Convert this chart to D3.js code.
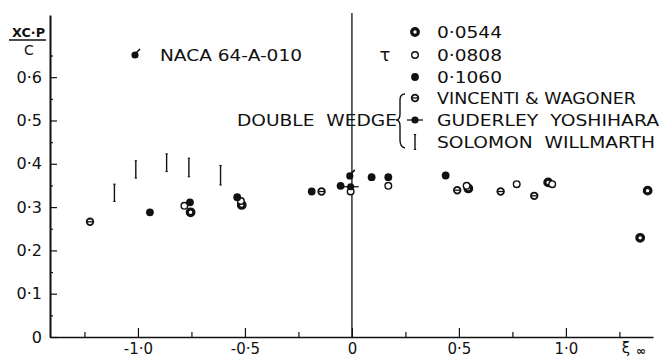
<!DOCTYPE html>
<html>
<head>
<meta charset="utf-8">
<script src="https://cdn.jsdelivr.net/npm/d3@7"></script>
<style>
  body { margin: 0; background: #fff; }
  svg { display: block; }
  text { font-family: "DejaVu Sans", sans-serif; fill: #111; }
</style>
</head>
<body>
<svg id="chart" width="659" height="358"></svg>
<script>
// Centre-of-pressure position x_cp/c against transonic similarity parameter xi_inf

// Thickness ratio tau = 0.0544
const tau0544 = [
  [-0.754, 0.288], [-0.515, 0.305], [0.544, 0.343],
  [0.917, 0.357], [1.382, 0.338], [1.347, 0.229]
];
// Thickness ratio tau = 0.0808
const tau0808 = [
  [-0.783, 0.303], [-0.519, 0.314], [-0.006, 0.336], [0.170, 0.349],
  [0.536, 0.349], [0.770, 0.353], [0.936, 0.353]
];
// Thickness ratio tau = 0.1060
const tau1060 = [
  [-0.944, 0.288], [-0.757, 0.311], [-0.536, 0.323], [-0.188, 0.336],
  [-0.053, 0.349], [0.092, 0.369], [0.170, 0.369], [0.438, 0.373]
];
// Double wedge, Vincenti & Wagoner
const vincentiWagoner = [
  [-1.224, 0.266], [-0.142, 0.336], [0.492, 0.339], [0.695, 0.336], [0.852, 0.326]
];
// Double wedge, Guderley & Yoshihara
const guderleyYoshihara = [[-0.006, 0.347]];
// NACA 64-A-010
const naca64A010 = [[-0.010, 0.372]];
// Double wedge, Solomon & Willmarth: [xi, low, high]
const solomonWillmarth = [
  [-1.110, 0.313, 0.353], [-1.010, 0.367, 0.407], [-0.866, 0.382, 0.423],
  [-0.762, 0.370, 0.413], [-0.614, 0.351, 0.396]
];

const xMajor = [-1.0, -0.5, 0, 0.5, 1.0];
const xMinor = [-1.25, -0.75, -0.25, 0.25, 0.75, 1.25];
const yMajor = [0, 0.1, 0.2, 0.3, 0.4, 0.5, 0.6];
const yMinor = [0.05, 0.15, 0.25, 0.35, 0.45, 0.55, 0.65];

const svg = d3.select("#chart");
const x = d3.scaleLinear().domain([-1.411, 1.407]).range([50, 653]);
const y = d3.scaleLinear().domain([0, 0.7436]).range([337, 15]);

const fmt = d => d === 0 ? "0" : d3.format(".1f")(d).replace("−", "-").replace(".", "·");

// y axis: major ticks pointing inward with labels, minor ticks shorter
const yAx = svg.append("g").attr("transform", `translate(${x.range()[0]},0)`)
  .call(d3.axisLeft(y).tickValues(yMajor).tickSizeInner(-7).tickSizeOuter(0)
    .tickPadding(8).tickFormat(fmt));
svg.append("g").attr("transform", `translate(${x.range()[0]},0)`)
  .call(d3.axisLeft(y).tickValues(yMinor).tickSizeInner(-3).tickSizeOuter(0).tickFormat(""))
  .select(".domain").remove();
yAx.select(".domain").attr("stroke-width", 2);

// x axis
const xAx = svg.append("g").attr("transform", `translate(0,${y(0)})`)
  .call(d3.axisBottom(x).tickValues(xMajor).tickSizeInner(-9).tickSizeOuter(0)
    .tickPadding(6).tickFormat(fmt));
svg.append("g").attr("transform", `translate(0,${y(0)})`)
  .call(d3.axisBottom(x).tickValues(xMinor).tickSizeInner(-5).tickSizeOuter(0).tickFormat(""))
  .select(".domain").remove();
xAx.select(".domain").attr("stroke-width", 1.6);

svg.selectAll(".tick line").attr("stroke", "#111").attr("stroke-width", 1.2);
svg.selectAll(".tick text").style("font-size", "16px").attr("fill", "#111");
xAx.selectAll(".tick text").style("font-size", "15px");
svg.selectAll(".domain").attr("stroke", "#111");

// vertical line at xi = 0
svg.append("line").attr("x1", x(0)).attr("x2", x(0)).attr("y1", 13).attr("y2", y(0))
  .attr("stroke", "#111").attr("stroke-width", 1.3);

// axis titles
svg.append("text").attr("x", 12).attr("y", 37)
  .attr("textLength", 33).attr("lengthAdjust", "spacingAndGlyphs")
  .style("font-size", "12px").style("font-weight", "bold").text("XC·P");
svg.append("line").attr("x1", 9).attr("x2", 46).attr("y1", 40).attr("y2", 40)
  .attr("stroke", "#111").attr("stroke-width", 1.6);
svg.append("text").attr("x", 29).attr("y", 55).attr("text-anchor", "middle")
  .style("font-size", "14px").text("C");
svg.append("text").attr("x", 626).attr("y", 353).attr("text-anchor", "middle")
  .style("font-size", "15px").text("ξ");
svg.append("text").attr("x", 641).attr("y", 355).attr("text-anchor", "middle")
  .style("font-size", "12px").style("font-weight", "bold").text("∞");

// marker painters
const R = 3.6;
const markers = {
  t0544: g => g.append("circle").attr("r", 3.3).attr("fill", "#fff")
    .attr("stroke", "#111").attr("stroke-width", 3.2),
  t0808: g => g.append("circle").attr("r", R - 0.3).attr("fill", "#fff")
    .attr("stroke", "#111").attr("stroke-width", 1.4),
  t1060: g => g.append("circle").attr("r", R + 0.3).attr("fill", "#111"),
  vw: g => {
    g.append("circle").attr("r", R - 0.3).attr("fill", "#fff")
      .attr("stroke", "#111").attr("stroke-width", 1.8);
    g.append("line").attr("x1", -R + 0.5).attr("x2", R - 0.5)
      .attr("stroke", "#111").attr("stroke-width", 1.3);
  },
  gy: g => {
    g.append("circle").attr("r", R).attr("fill", "#111");
    g.append("line").attr("x1", -8).attr("x2", 8)
      .attr("stroke", "#111").attr("stroke-width", 1.3);
  },
  naca: g => {
    g.append("circle").attr("r", R).attr("fill", "#111");
    g.append("path").attr("d", "M1.5,-2.5 L5,-6").attr("stroke", "#111")
      .attr("stroke-width", 1.6);
  },
  bar: (g, h) => {
    g.append("line").attr("y1", -h / 2).attr("y2", h / 2)
      .attr("stroke", "#111").attr("stroke-width", 1.4);
    g.append("line").attr("x1", -1.2).attr("x2", 1.2).attr("y1", -h / 2).attr("y2", -h / 2)
      .attr("stroke", "#111").attr("stroke-width", 1);
    g.append("line").attr("x1", -1.2).attr("x2", 1.2).attr("y1", h / 2).attr("y2", h / 2)
      .attr("stroke", "#111").attr("stroke-width", 1);
  }
};

function plot(data, kind) {
  data.forEach(d => {
    const g = svg.append("g").attr("transform", `translate(${x(d[0])},${y(d[1])})`);
    markers[kind](g);
  });
}

// Solomon & Willmarth ranges
solomonWillmarth.forEach(d => {
  const g = svg.append("g").attr("transform", `translate(${x(d[0])},${y((d[1] + d[2]) / 2)})`);
  markers.bar(g, y(d[1]) - y(d[2]));
});
plot(vincentiWagoner, "vw");
plot(tau0544, "t0544");
plot(tau0808, "t0808");
plot(tau1060, "t1060");
plot(guderleyYoshihara, "gy");
plot(naca64A010, "naca");

// legend
const legendRows = [
  { kind: "t0544", label: "0·0544", cy: 32, len: 65 },
  { kind: "t0808", label: "0·0808", cy: 55, len: 65 },
  { kind: "t1060", label: "0·1060", cy: 77, len: 65 },
  { kind: "vw", label: "VINCENTI & WAGONER", cy: 98, len: 199 },
  { kind: "gy", label: "GUDERLEY  YOSHIHARA", cy: 120, len: 222 },
  { kind: "bar", label: "SOLOMON  WILLMARTH", cy: 142, len: 218 }
];
legendRows.forEach(r => {
  const g = svg.append("g").attr("transform", `translate(415,${r.cy})`);
  if (r.kind === "bar") markers.bar(g, 15); else markers[r.kind](g);
  svg.append("text").attr("x", 437).attr("y", r.cy + 5.5)
    .attr("textLength", r.len).attr("lengthAdjust", "spacingAndGlyphs")
    .style("font-size", "15px").style("white-space", "pre").text(r.label);
});
svg.append("text").attr("x", 385).attr("y", 61).attr("text-anchor", "middle")
  .style("font-size", "18px").text("τ");

// brace grouping the double-wedge entries
svg.append("path")
  .attr("d", "M405,94 Q400,94 400,100 L400,114 Q400,120 396,120 Q400,120 400,126 L400,140 Q400,147 405,148")
  .attr("fill", "none").attr("stroke", "#111").attr("stroke-width", 1.4);
svg.append("text").attr("x", 237).attr("y", 125.5)
  .attr("textLength", 160).attr("lengthAdjust", "spacingAndGlyphs")
  .style("font-size", "15px").style("white-space", "pre").text("DOUBLE  WEDGE");

// NACA legend
const ng = svg.append("g").attr("transform", "translate(135,55)");
markers.naca(ng);
svg.append("text").attr("x", 160).attr("y", 60.5)
  .attr("textLength", 142).attr("lengthAdjust", "spacingAndGlyphs")
  .style("font-size", "15px").text("NACA 64-A-010");
</script>
</body>
</html>
